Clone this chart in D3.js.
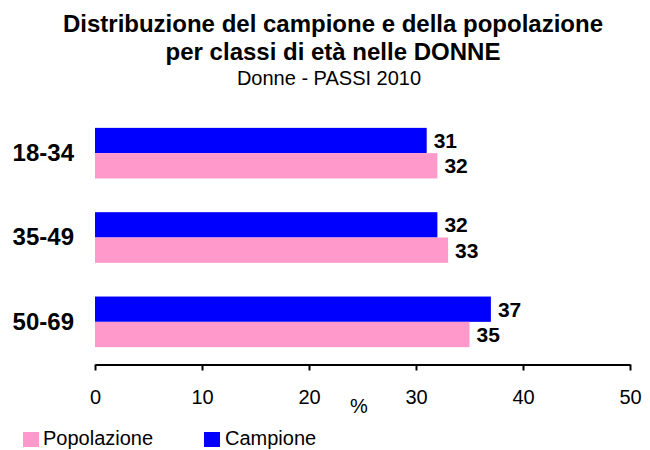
<!DOCTYPE html>
<html>
<head>
<meta charset="utf-8">
<script src="https://cdn.jsdelivr.net/npm/d3@7"></script>
<style>
  html, body { margin: 0; padding: 0; background: #fff; }
  svg { display: block; font-family: "Liberation Sans", Arial, sans-serif; }
</style>
</head>
<body>
<svg id="chart" width="650" height="450"></svg>
<script>
const categories = ["18-34", "35-49", "50-69"];
const seriesNames = ["Campione", "Popolazione"];
const campione = [31, 32, 37];
const popolazione = [32, 33, 35];
const xTicks = [0, 10, 20, 30, 40, 50];
const colors = { "Campione": "#0000FF", "Popolazione": "#FF99CC" };

const svg = d3.select("#chart");
const x = d3.scaleLinear().domain([0, 50]).range([95, 630]);
const y = d3.scaleBand().domain(categories).range([111, 364]).paddingInner(0.4).paddingOuter(0.2);
const ySub = d3.scaleBand().domain(seriesNames).range([0, y.bandwidth()]);

const data = categories.map((c, i) => ({ cat: c, values: { "Campione": campione[i], "Popolazione": popolazione[i] } }));

// Titles
svg.append("text").attr("x", 333).attr("y", 32).attr("text-anchor", "middle")
  .attr("font-size", 24).attr("font-weight", "bold").text("Distribuzione del campione e della popolazione");
svg.append("text").attr("x", 333).attr("y", 60).attr("text-anchor", "middle")
  .attr("font-size", 24).attr("font-weight", "bold").text("per classi di età nelle DONNE");
svg.append("text").attr("x", 329).attr("y", 85).attr("text-anchor", "middle")
  .attr("font-size", 20).text("Donne - PASSI 2010");

// Bars
const g = svg.append("g");
data.forEach(d => {
  seriesNames.forEach(s => {
    const v = d.values[s];
    const y0 = y(d.cat) + ySub(s);
    g.append("rect")
      .attr("x", x(0)).attr("y", y0)
      .attr("width", x(v) - x(0)).attr("height", ySub.bandwidth())
      .attr("fill", colors[s]);
    g.append("text")
      .attr("x", x(v) + 7).attr("y", y0 + ySub.bandwidth() / 2)
      .attr("dy", "0.35em").attr("font-size", 21).attr("font-weight", "bold")
      .text(v);
  });
});

// Category labels
categories.forEach(c => {
  svg.append("text").attr("x", 74).attr("y", y(c) + y.bandwidth() / 2)
    .attr("dy", "0.32em").attr("text-anchor", "end")
    .attr("font-size", 24).attr("font-weight", "bold").text(c);
});

// X axis
const axis = d3.axisBottom(x).tickValues(xTicks).tickSize(6).tickPadding(19).tickSizeOuter(0);
const ax = svg.append("g").attr("transform", "translate(0,364.5)").call(axis);
ax.select(".domain").attr("stroke", "#000").attr("stroke-width", 2);
ax.selectAll(".tick line").attr("stroke", "#000").attr("stroke-width", 2);
ax.selectAll(".tick text").attr("font-size", 20).attr("fill", "#000")
  .attr("font-family", "Liberation Sans, Arial, sans-serif");

svg.append("text").attr("x", 359).attr("y", 413).attr("text-anchor", "middle")
  .attr("font-size", 20).text("%");

// Legend
const legendItems = [
  { name: "Popolazione", sx: 23, tx: 43 },
  { name: "Campione", sx: 204, tx: 225 }
];
legendItems.forEach(it => {
  svg.append("rect").attr("x", it.sx).attr("y", 432).attr("width", 16).attr("height", 15)
    .attr("fill", colors[it.name]);
  svg.append("text").attr("x", it.tx).attr("y", 445).attr("font-size", 20).text(it.name);
});
</script>
</body>
</html>
